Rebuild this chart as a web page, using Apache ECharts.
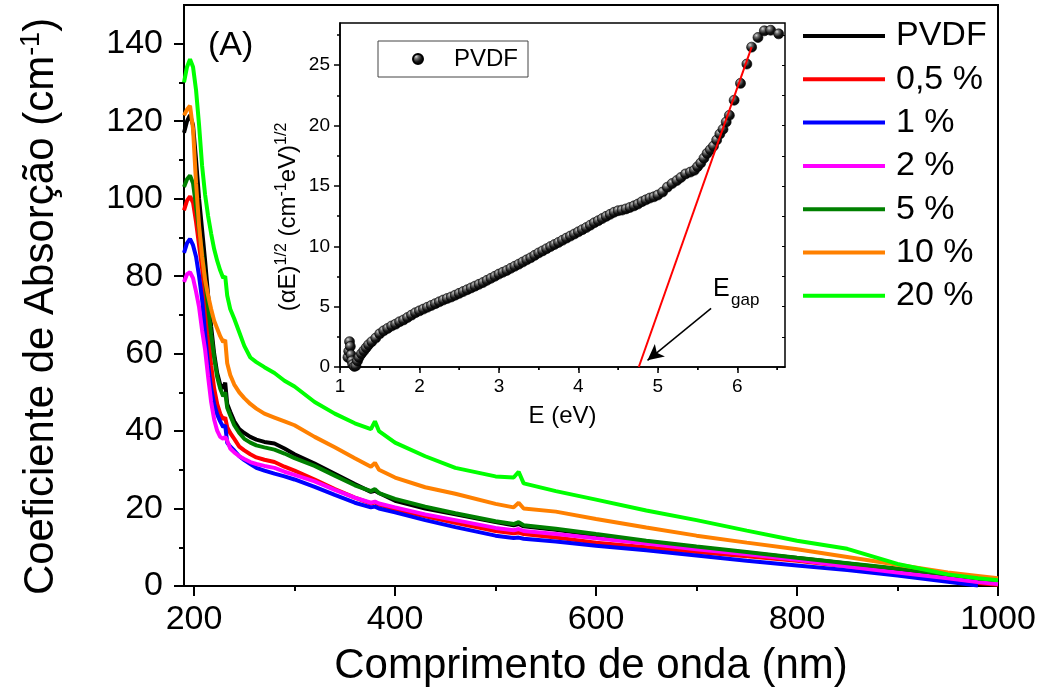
<!DOCTYPE html>
<html><head><meta charset="utf-8">
<script src="https://cdn.jsdelivr.net/npm/echarts@6/dist/echarts.min.js"></script>
<style>html,body{margin:0;padding:0;background:#fff}#c{width:1043px;height:694px}</style>
</head><body><div id="c"></div>
<script>
const FONT = '"Liberation Sans", Arial, Helvetica, sans-serif';

// ---- main chart data (wavelength in nm, absorption coefficient in cm^-1) ----
const wavelengths = [190,193,196,199,202,205,208,211,214,217,220,223,226,229,231,233,236,240,245,250,256,262,270,280,290,300,320,340,360,376,380,384,400,430,460,500,518,523,528,560,600,650,700,750,800,850,900,950,980,1000];
const valsPVDF = [117,120,121.6,119,110,100,92,84,75,67,60,55,52,51,52.5,47,45,42.5,40.5,39.5,38.5,37.8,37.2,36.8,35.5,34,31.6,29,26.3,24.3,24.6,24,22,20,18.5,16.5,15.7,16,15.4,14.5,13.1,11.5,10,8.6,7.2,5.8,4.3,2.8,1.8,1.3];
const vals05 = [97,99.5,100.6,99,94,88,82,74,65,57,51,47,44.5,43,43.5,41,39.5,38,36,35,34,33.2,32.6,32,30.8,29.8,27.5,25,22.8,21.3,21.6,21,19.8,18,16.3,14.2,13.6,13.8,13.4,12.5,11.2,10.0,8.8,7.7,6.5,5.0,3.3,1.8,0.8,0.3];
const vals1 = [86,88.5,89.6,88,85,80,74,65,57,51,47,44.3,42.5,41,41.5,37,36,35,33.5,32.5,31.5,30.5,29.8,29,28.3,27.5,25.6,23.5,21.5,20.3,20.5,20,19,17,15.2,13.0,12.4,12.5,12.2,11.5,10.4,9.2,7.9,6.5,5.3,4.1,2.7,1.1,0.1,null];
const vals2 = [78.5,80.5,81,79.5,76,72,66,61,54,47.5,43,40.1,38.5,38,38.5,37.5,35.5,34.5,33.5,32.8,32,31.5,31,30.5,29.5,28.7,27,24.8,22.8,21.5,21.8,21.3,20.3,18.5,17,15.0,14.4,14.7,14.2,13.4,12.3,11.0,9.5,8.2,6.8,5.0,3.5,2.0,1.0,0.5];
const vals5 = [103,105,106,104,98,92,86,79,72,65,59,54,51,49,50,46,44,41.5,39.5,38,37,36.3,35.8,35.2,34.2,33,31,28.5,26,24.5,25,24,22.5,20.5,18.8,16.7,16,16.5,15.7,14.8,13.4,11.7,10.2,8.8,7.3,5.9,4.5,3.0,2.1,1.6];
const vals10 = [121.5,123,124,118,104,93,85,79,75,71.5,68.5,66.5,64.5,63,63.5,57.5,54.5,52,50,48.5,47,45.8,44.5,43.5,42.5,41.5,38.5,35.8,33,30.8,31.8,30,28,25.5,23.8,21.2,20.3,21.5,20,19.2,17.3,15.1,13,11.2,9.5,7.5,5.5,3.5,2.6,2.0];
const vals20 = [130,134,136,134,128,119,108.5,101,95.5,91,87,84,81.5,79.5,80,75,71.5,69,65.5,62,59,57.8,56.5,55,53,51.5,47.5,44.5,42,40.5,42.5,40,37,33.5,30.5,28.3,28,29.5,26.5,24.5,22.3,19.5,17,14.3,11.7,9.6,5.7,3.0,2.0,1.5];

const seriesNames = ['PVDF','0,5 %','1 %','2 %','5 %','10 %','20 %'];
const seriesColors = ['#000000','#ff0000','#0000ff','#ff00ff','#008000','#ff8000','#00ff00'];
const seriesValues = [valsPVDF, vals05, vals1, vals2, vals5, vals10, vals20];

const mainXTicks = [200,400,600,800,1000];
const mainXMinor = [300,500,700,900];
const mainYTicks = [0,20,40,60,80,100,120,140];
const mainYMinor = [10,30,50,70,90,110,130];

// ---- inset data: (alpha E)^1/2 vs E ----
const insetE = [1.10,1.11,1.12,1.13,1.14,1.15,1.16,1.18,
 1.20,1.22,1.24,1.27,1.30,1.33,1.36,1.40,1.45,1.50,1.55,1.60,1.65,1.70,1.75,1.80,1.85,1.90,1.95,
 2.00,2.05,2.10,2.15,2.20,2.25,2.30,2.35,2.40,2.45,2.50,2.55,2.60,2.65,2.70,2.75,2.80,2.85,2.90,2.95,
 3.00,3.05,3.10,3.15,3.20,3.25,3.30,3.35,3.40,3.45,3.50,3.55,3.60,3.65,3.70,3.75,3.80,3.85,3.90,3.95,
 4.00,4.05,4.10,4.15,4.20,4.25,4.30,4.35,4.40,4.45,4.50,4.55,4.60,4.65,4.70,4.75,4.80,4.85,4.90,4.95,5.00,
 5.06,5.12,5.18,5.24,5.29,5.35,5.41,5.46,5.50,5.54,5.58,5.62,5.66,5.70,5.74,5.78,5.82,5.86,5.90,5.96,6.04,6.12,6.18,6.26,6.34,6.42,6.52];
const insetV = [0.8,1.3,2.1,1.7,1.0,0.5,0.2,0.05,
 0.1,0.5,0.8,1.1,1.35,1.6,1.85,2.1,2.4,2.75,3.0,3.2,3.4,3.55,3.75,3.9,4.1,4.3,4.5,
 4.65,4.8,4.95,5.1,5.25,5.4,5.55,5.68,5.8,5.95,6.1,6.25,6.4,6.55,6.7,6.85,7.0,7.18,7.35,7.52,
 7.7,7.85,8.0,8.18,8.35,8.52,8.7,8.88,9.05,9.25,9.45,9.62,9.8,9.98,10.15,10.32,10.5,10.68,10.85,11.02,
 11.2,11.38,11.55,11.75,11.95,12.12,12.3,12.48,12.65,12.82,12.95,13.0,13.1,13.22,13.35,13.5,13.7,13.85,14.0,14.1,14.25,
 14.5,14.9,15.2,15.45,15.7,16.0,16.15,16.3,16.6,16.9,17.3,17.7,18.0,18.3,18.8,19.3,19.7,20.3,20.85,22.1,23.5,25.1,26.5,27.3,27.85,27.9,27.6];
const fitE = [4.76, 6.18];
const fitV = [0, 26.5];
const arrowFrom = [5.67, 4.86];
const arrowTo = [4.87, 0.55];

const insetXTicks = [1,2,3,4,5,6];
const insetXMinor = [1.5,2.5,3.5,4.5,5.5,6.5];
const insetXTop = [1,1.5,2,2.5,3,3.5,4,4.5,5,5.5,6,6.5];
const insetYTicks = [0,5,10,15,20,25];
const insetYMinor = [2.5,7.5,12.5,17.5,22.5,27.5];
const insetYRight = [0,2.5,5,7.5,10,12.5,15,17.5,20,22.5,25,27.5];

const chart = echarts.init(document.getElementById('c'), null, {renderer:'canvas'});

function axisBase(extra){
  return Object.assign({type:'value', splitLine:{show:false}}, extra);
}
const black = '#000';
const plain = v => String(v);

const sphere = {
  type:'radial', x:0.35, y:0.3, r:0.75,
  colorStops:[{offset:0,color:'#d8d8d8'},{offset:0.25,color:'#707070'},{offset:0.6,color:'#151515'},{offset:1,color:'#000'}]
};

const lineSeries = seriesNames.map((name,k)=>({
  name, type:'line', xAxisIndex:0, yAxisIndex:0,
  data: wavelengths.map((w,i)=>[w, seriesValues[k][i]]),
  showSymbol:false, symbol:'none', connectNulls:false,
  lineStyle:{color:seriesColors[k], width:4},
  itemStyle:{color:seriesColors[k]},
  z:2+k, animation:false
}));

const option = {
  animation:false,
  backgroundColor:'#fff',
  textStyle:{fontFamily:FONT, color:black},
  grid:[
    {left:184, top:5, width:814, height:585, show:true, borderColor:black, borderWidth:2, backgroundColor:'transparent'},
    {left:340, top:23, width:445, height:344, show:true, borderColor:black, borderWidth:1.5, backgroundColor:'#fff', z:10}
  ],
  legend:[
    {data:seriesNames, orient:'vertical', left:803, top:19, padding:0,
     itemWidth:82, itemHeight:4, itemGap:9.3, icon:'rect', selectedMode:false,
     textStyle:{fontSize:34, lineHeight:34, color:black, fontFamily:FONT, padding:[0,0,0,6]}},
    {data:['PVDF_inset'], formatter:()=> 'PVDF', left:378, top:41, padding:[6,10,6,34],
     itemWidth:10, itemHeight:10, selectedMode:false, borderColor:'#444', borderWidth:1,
     backgroundColor:'#fff', z:20,
     textStyle:{fontSize:24, lineHeight:24, color:black, fontFamily:FONT, padding:[0,0,0,26]}}
  ],
  xAxis:[
    axisBase({gridIndex:0, min:190, max:1000, position:'bottom',
      axisLine:{lineStyle:{color:black,width:2}},
      axisTick:{show:true, customValues:mainXTicks, length:10, inside:false, lineStyle:{color:black,width:2}},
      axisLabel:{customValues:mainXTicks, formatter:plain, fontSize:34, margin:17, color:black, fontFamily:FONT},
      name:'Comprimento de onda (nm)', nameLocation:'middle', nameGap:57,
      nameTextStyle:{fontSize:42, lineHeight:46, color:black, fontFamily:FONT}}),
    axisBase({gridIndex:0, min:190, max:1000, position:'bottom',
      axisLine:{show:false},
      axisTick:{show:true, customValues:mainXMinor, length:5, lineStyle:{color:black,width:2}},
      axisLabel:{show:false}}),
    axisBase({gridIndex:1, min:1, max:6.6, position:'bottom',
      axisLine:{lineStyle:{color:black,width:1.5}},
      axisTick:{show:true, customValues:insetXTicks, length:6, lineStyle:{color:black,width:1.5}},
      axisLabel:{customValues:insetXTicks, formatter:plain, fontSize:19, margin:10, color:black, fontFamily:FONT},
      name:'E (eV)', nameLocation:'middle', nameGap:37,
      nameTextStyle:{fontSize:24, color:black, fontFamily:FONT}, z:11}),
    axisBase({gridIndex:1, min:1, max:6.6, position:'bottom',
      axisLine:{show:false},
      axisTick:{show:true, customValues:insetXMinor, length:3, lineStyle:{color:black,width:1.5}},
      axisLabel:{show:false}, z:11}),
    axisBase({gridIndex:1, min:1, max:6.6, position:'top',
      axisLine:{show:false},
      axisTick:{show:true, customValues:insetXTop, length:3, inside:true, lineStyle:{color:black,width:1}},
      axisLabel:{show:false}, z:11})
  ],
  yAxis:[
    axisBase({gridIndex:0, min:0, max:150, position:'left',
      axisLine:{lineStyle:{color:black,width:2}},
      axisTick:{show:true, customValues:mainYTicks, length:10, lineStyle:{color:black,width:2}},
      axisLabel:{customValues:mainYTicks, formatter:plain, fontSize:34, margin:21, color:black, fontFamily:FONT},
      name:'{a|Coeficiente de Absorção (cm}{s|-1}{a|)}{p| }', nameLocation:'middle', nameGap:120, nameRotate:90,
      nameTextStyle:{rich:{
        a:{fontSize:42, lineHeight:46, color:black, fontFamily:FONT},
        s:{fontSize:27, lineHeight:27, verticalAlign:'top', color:black, fontFamily:FONT},
        p:{width:22, fontSize:10}}}}),
    axisBase({gridIndex:0, min:0, max:150, position:'left',
      axisLine:{show:false},
      axisTick:{show:true, customValues:mainYMinor, length:5, lineStyle:{color:black,width:2}},
      axisLabel:{show:false}}),
    axisBase({gridIndex:1, min:0, max:28.5, position:'left',
      axisLine:{lineStyle:{color:black,width:1.5}},
      axisTick:{show:true, customValues:insetYTicks, length:6, lineStyle:{color:black,width:1.5}},
      axisLabel:{customValues:insetYTicks, formatter:plain, fontSize:19, margin:10, color:black, fontFamily:FONT},
      name:'{a|(αE)}{s|1/2}{a| (cm}{s|-1}{a|eV)}{s|1/2}{p| }', nameLocation:'middle', nameGap:38, nameRotate:90,
      nameTextStyle:{rich:{
        a:{fontSize:24, lineHeight:28, color:black, fontFamily:FONT},
        s:{fontSize:16, lineHeight:16, verticalAlign:'top', color:black, fontFamily:FONT},
        p:{width:44, fontSize:10}}}, z:11}),
    axisBase({gridIndex:1, min:0, max:28.5, position:'left',
      axisLine:{show:false},
      axisTick:{show:true, customValues:insetYMinor, length:3, lineStyle:{color:black,width:1.5}},
      axisLabel:{show:false}, z:11}),
    axisBase({gridIndex:1, min:0, max:28.5, position:'right',
      axisLine:{show:false},
      axisTick:{show:true, customValues:insetYRight, length:3, inside:true, lineStyle:{color:black,width:1}},
      axisLabel:{show:false}, z:11})
  ],
  series: lineSeries.concat([
    {name:'PVDF_inset', type:'scatter', xAxisIndex:2, yAxisIndex:2,
     data: insetE.map((e,i)=>[e, insetV[i]]),
     symbol:'circle', symbolSize:10,
     itemStyle:{color:sphere, borderColor:'#000', borderWidth:0.6, opacity:1},
     z:12, animation:false},
    {name:'fit', type:'line', xAxisIndex:2, yAxisIndex:2,
     data: fitE.map((e,i)=>[e, fitV[i]]),
     showSymbol:false, symbol:'none', lineStyle:{color:'#ff0000', width:2}, z:13,
     markLine:{silent:true, animation:false, z:30, symbol:['none','arrow'], symbolSize:[12,16],
       label:{show:false}, lineStyle:{color:black, width:1.5, type:'solid'},
       data:[[{coord:arrowFrom},{coord:arrowTo}]]}}
  ]),
  graphic:[
    {type:'text', left:208, top:29, z:50, style:{text:'(A)', fontSize:34, fill:black, fontFamily:FONT}},
    {type:'text', left:713, top:277, z:50, style:{text:'E', fontSize:25, fill:black, fontFamily:FONT}},
    {type:'text', left:731, top:292, z:50, style:{text:'gap', fontSize:17, fill:black, fontFamily:FONT}}
  ]
};
chart.setOption(option);
</script>
</body></html>
